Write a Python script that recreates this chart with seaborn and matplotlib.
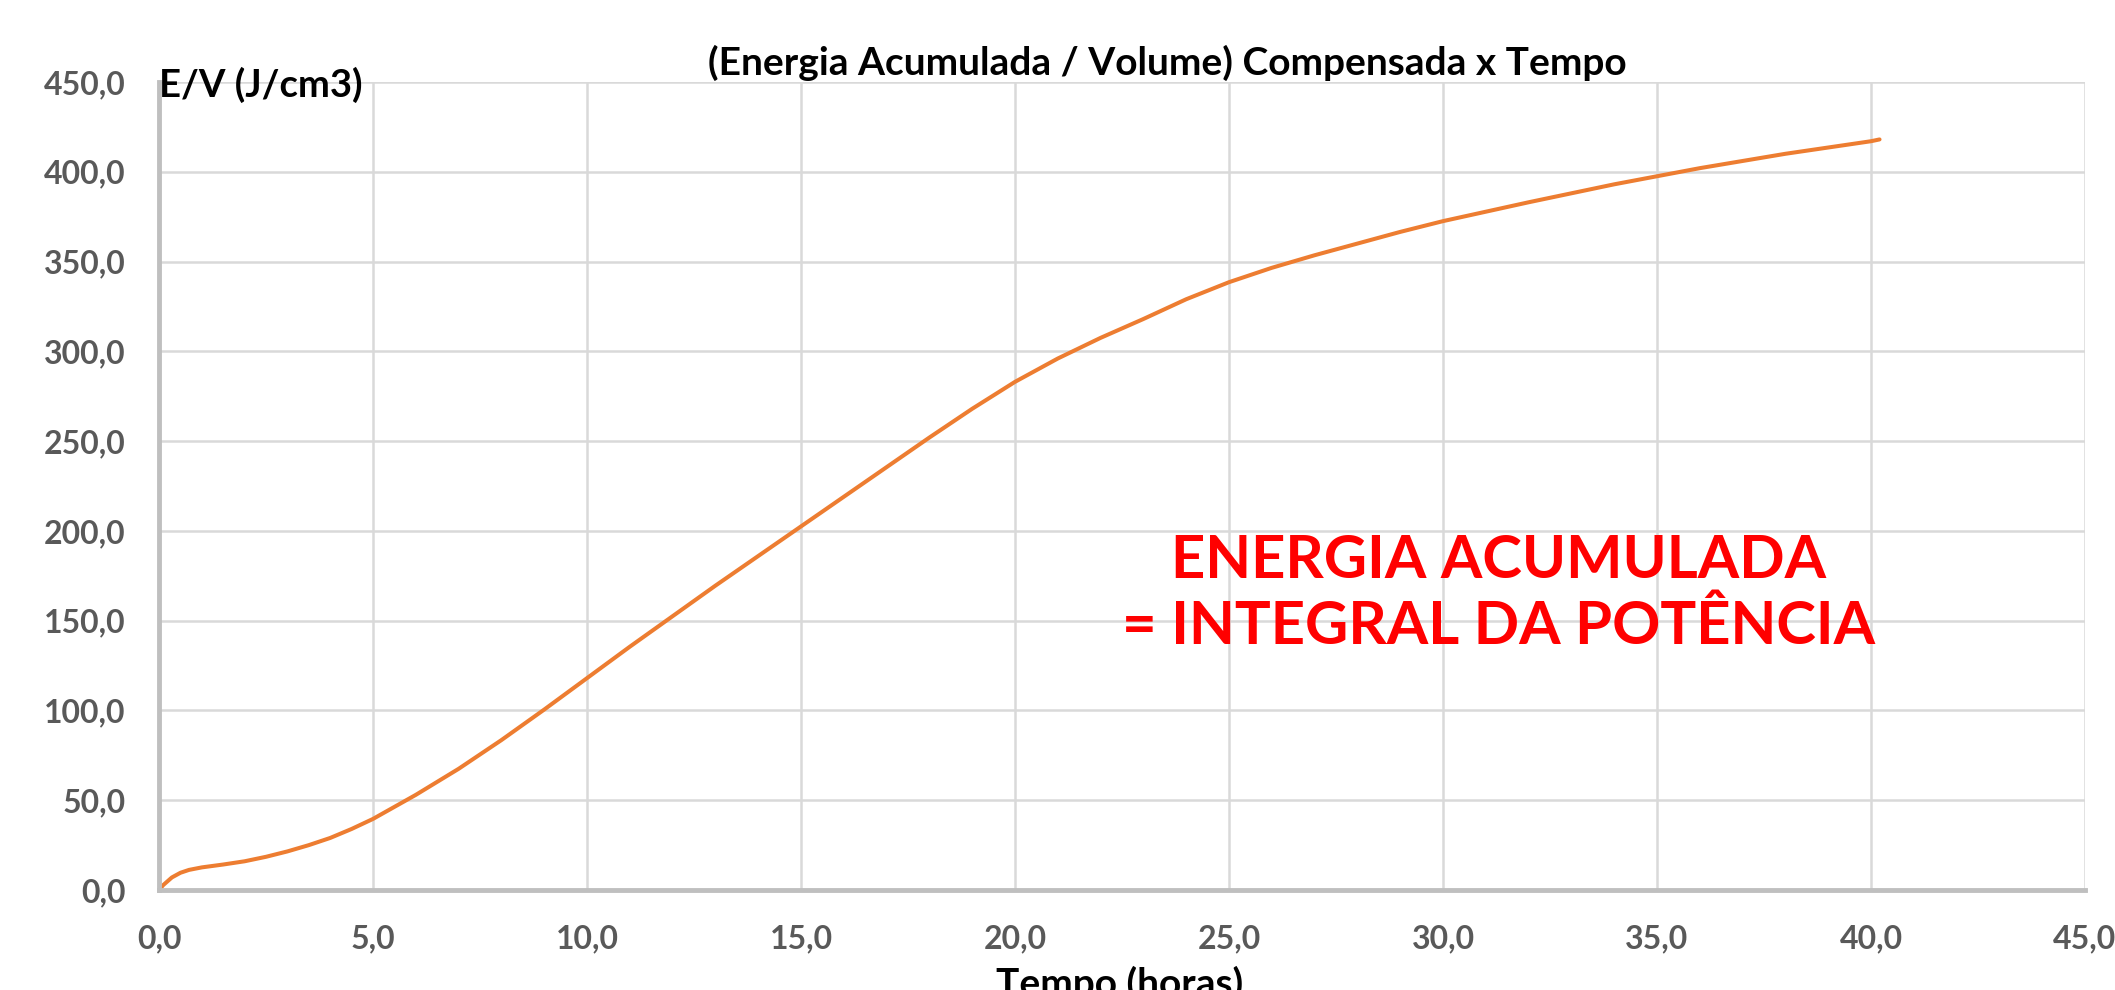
import numpy as np
import pandas as pd
import matplotlib
matplotlib.use("Agg")
import matplotlib.pyplot as plt
import seaborn as sns
from matplotlib.ticker import FuncFormatter, MultipleLocator

# --- dados ---
tempo_h = [0, 0.1, 0.3, 0.5, 0.7, 1.0, 1.5, 2, 2.5, 3, 3.5, 4, 4.5, 5, 6, 7,
           8, 9, 10, 11, 12, 13, 14, 15, 16, 17, 18, 19, 20, 21, 22, 23, 24,
           25, 26, 27, 28, 29, 30, 32, 34, 36, 38, 40, 40.2]
energia_vol = [0, 2.8, 7, 9.6, 11.2, 12.6, 14.2, 16, 18.5, 21.5, 25, 29, 34,
               39.6, 53, 67.5, 83.5, 100.5, 118, 135.5, 152.5, 169.5, 186,
               202.5, 219, 235.5, 252, 268, 283, 296, 307.5, 318, 329, 338.5,
               346.5, 353.5, 360, 366.5, 372.5, 383, 393, 402, 410, 417, 418]

titulo = "(Energia Acumulada / Volume) Compensada x Tempo"
rotulo_y = "E/V (J/cm3)"
rotulo_x = "Tempo (horas)"
anotacao = "ENERGIA ACUMULADA\n= INTEGRAL DA POTÊNCIA"

df = pd.DataFrame({"t": tempo_h, "ev": energia_vol})

sns.set_theme(style="white")
plt.rcParams["font.family"] = ["Lato", "DejaVu Sans"]

fig = plt.figure(figsize=(21.15, 9.9), dpi=100)
ax = fig.add_axes([0.0752, 0.101, 0.9106, 0.8162])

sns.lineplot(data=df, x="t", y="ev", ax=ax, color="#ED7D31", linewidth=2.9)

ax.set_xlim(0, 45)
ax.set_ylim(0, 450)
ax.xaxis.set_major_locator(MultipleLocator(5))
ax.yaxis.set_major_locator(MultipleLocator(50))
fmt = FuncFormatter(lambda v, p: f"{v:.1f}".replace(".", ","))
ax.xaxis.set_major_formatter(fmt)
ax.yaxis.set_major_formatter(fmt)

ax.grid(True, color="#D9D9D9", linewidth=1.8)
ax.set_axisbelow(True)
for s in ["top", "right"]:
    ax.spines[s].set_visible(False)
for s in ["left", "bottom"]:
    ax.spines[s].set_color("#BFBFBF")
    ax.spines[s].set_linewidth(3.5)

ax.tick_params(axis="both", length=0, labelsize=23, labelcolor="#595959")
ax.tick_params(axis="x", pad=25)
ax.tick_params(axis="y", pad=24)
for lab in ax.get_xticklabels() + ax.get_yticklabels():
    lab.set_fontweight("bold")

ax.set_xlabel("")
ax.set_ylabel("")

# titulo e rótulos dos eixos
fig.text(0.552, 0.936, titulo, ha="center", va="center", fontsize=28,
         fontweight="bold", color="black")
fig.text(0.0752, 0.914, rotulo_y, ha="left", va="center", fontsize=27.5,
         fontweight="bold", color="black")
fig.text(0.5296, 0.006, rotulo_x, ha="center", va="center", fontsize=28,
         fontweight="bold", color="black")

ax.text(31.3, 165, anotacao, ha="center", va="center", fontsize=43,
        fontweight="bold", color="#FF0000", linespacing=1.25)

fig.savefig("out.png", dpi=100)
